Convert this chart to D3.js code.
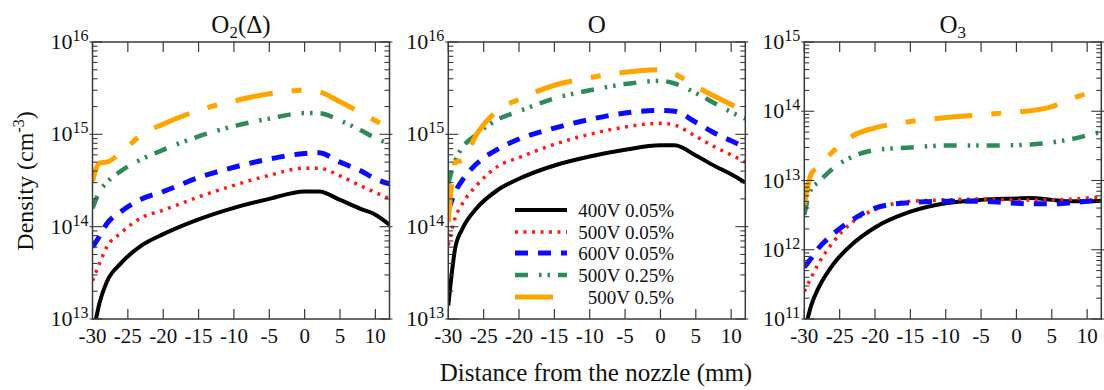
<!DOCTYPE html>
<html>
<head>
<meta charset="utf-8">
<script src="https://cdn.jsdelivr.net/npm/d3@7"></script>
<style>
  html, body { margin: 0; padding: 0; background: #fff; }
  svg { display: block; }
</style>
</head>
<body>
<svg id="chart" width="1104" height="390"></svg>
<script>
// ---------------- DATA ----------------
const distance = [-30, -29, -28, -26, -23, -20, -15, -10, -5, 0, 2, 5, 8, 10, 12];

const seriesNames = ["400V 0.05%", "500V 0.05%", "600V 0.05%", "500V 0.25%", "500V 0.5%"];

// O2(Δ) densities (cm^-3)
const o2d_400_005 = [6.3e12, 1.5e13, 2.5e13, 4.0e13, 6.3e13, 8.3e13, 1.2e14, 1.6e14, 2.0e14, 2.4e14, 2.4e14, 1.95e14, 1.55e14, 1.35e14, 1.05e14];
const o2d_500_005 = [2.6e13, 4.0e13, 6.0e13, 8.5e13, 1.26e14, 1.51e14, 2.1e14, 2.8e14, 3.6e14, 4.3e14, 4.3e14, 3.55e14, 2.75e14, 2.35e14, 2.0e14];
const o2d_600_005 = [6.0e13, 7.9e13, 1.07e14, 1.45e14, 2.0e14, 2.4e14, 3.4e14, 4.4e14, 5.4e14, 6.2e14, 6.3e14, 5.0e14, 4.0e14, 3.3e14, 2.9e14];
const o2d_500_025 = [1.58e14, 2.4e14, 3.0e14, 4.0e14, 5.4e14, 6.8e14, 9.5e14, 1.23e15, 1.48e15, 1.7e15, 1.7e15, 1.41e15, 1.1e15, 9.1e14, 7.9e14];
const o2d_500_05  = [3.1e14, 4.9e14, 5.0e14, 6.3e14, 1.0e15, 1.29e15, 1.82e15, 2.3e15, 2.75e15, 3.0e15, 2.9e15, 2.25e15, 1.7e15, 1.41e15, 1.15e15];

// O densities (cm^-3)
const o_400_005 = [1.4e13, 6.0e13, 9.5e13, 1.58e14, 2.5e14, 3.3e14, 4.6e14, 5.75e14, 6.8e14, 7.6e14, 7.6e14, 5.9e14, 4.4e14, 3.7e14, 3.0e14];
const o_500_005 = [6.3e13, 1.26e14, 1.78e14, 2.8e14, 4.5e14, 5.6e14, 7.8e14, 1.0e15, 1.2e15, 1.32e15, 1.26e15, 9.5e14, 7.1e14, 6.0e14, 5.0e14];
const o_600_005 = [1.51e14, 2.4e14, 3.2e14, 4.8e14, 6.9e14, 8.9e14, 1.17e15, 1.45e15, 1.7e15, 1.82e15, 1.78e15, 1.35e15, 1.0e15, 8.5e14, 7.2e14];
const o_500_025 = [2.95e14, 5.25e14, 7.2e14, 1.0e15, 1.45e15, 1.78e15, 2.45e15, 3.0e15, 3.5e15, 3.8e15, 3.55e15, 2.8e15, 2.1e15, 1.74e15, 1.48e15];
const o_500_05  = [1.12e14, 5.0e14, 5.25e14, 1.0e15, 1.82e15, 2.4e15, 3.4e15, 4.1e15, 4.7e15, 5.0e15, 4.5e15, 3.3e15, 2.5e15, 2.1e15, 1.74e15];

// O3 densities (cm^-3)
const o3_400_005 = [6.3e10, 1.6e11, 2.8e11, 6.0e11, 1.26e12, 2.1e12, 3.55e12, 4.7e12, 5.25e12, 5.5e12, 5.6e12, 5.25e12, 5.0e12, 5.0e12, 5.1e12];
const o3_500_005 = [2.5e11, 4.0e11, 6.3e11, 1.26e12, 2.6e12, 3.8e12, 5.0e12, 5.25e12, 5.4e12, 5.25e12, 5.25e12, 5.25e12, 5.4e12, 5.6e12, 5.75e12];
const o3_600_005 = [5.6e11, 7.6e11, 1.05e12, 1.66e12, 2.8e12, 4.0e12, 4.8e12, 5.0e12, 5.0e12, 4.7e12, 4.6e12, 4.6e12, 4.8e12, 5.0e12, 5.25e12];
const o3_500_025 = [3.2e12, 7.6e12, 9.5e12, 1.48e13, 2.25e13, 2.75e13, 3.0e13, 3.2e13, 3.2e13, 3.25e13, 3.3e13, 3.55e13, 4.0e13, 4.5e13, 5.0e13];
const o3_500_05  = [4.5e12, 1.26e13, 1.58e13, 2.6e13, 4.5e13, 5.75e13, 7.1e13, 8.1e13, 8.9e13, 9.8e13, 1.02e14, 1.17e14, 1.55e14, 1.82e14, 2.25e14];

const xTicks = [-30, -25, -20, -15, -10, -5, 0, 5, 10];

const panels = [
  { title: "O2(Δ)", domain: [1e13, 1e16], series: [o2d_400_005, o2d_500_005, o2d_600_005, o2d_500_025, o2d_500_05] },
  { title: "O",     domain: [1e13, 1e16], series: [o_400_005, o_500_005, o_600_005, o_500_025, o_500_05] },
  { title: "O3",    domain: [1e11, 1e15], series: [o3_400_005, o3_500_005, o3_600_005, o3_500_025, o3_500_05] }
];

// ---------------- STYLE ----------------
const styles = [
  { color: "#000000", width: 4,   dash: null },
  { color: "#ff1a1a", width: 3.5, dash: "3,5.5" },
  { color: "#0a0aff", width: 5,   dash: "13,10" },
  { color: "#2e8b57", width: 4.5, dash: "13,11,2.5,6,2.5,8" },
  { color: "#ffa500", width: 5,   dash: "38,19,10,19" }
];

// pick an installed serif face (Times-like)
function pickSerif() {
  const c = document.createElement("canvas").getContext("2d");
  const sample = "Distance from the nozzle 0123456789 mmWi";
  const base = {};
  ["monospace", "sans-serif"].forEach(b => { c.font = "40px " + b; base[b] = c.measureText(sample).width; });
  const cands = ["Liberation Serif", "Times New Roman", "Tinos", "Nimbus Roman", "Nimbus Roman No9 L",
                 "FreeSerif", "DejaVu Serif", "Noto Serif", "Times", "serif"];
  for (const f of cands) {
    let ok = true;
    for (const b of ["monospace", "sans-serif"]) {
      c.font = `40px '${f}', ${b}`;
      if (Math.abs(c.measureText(sample).width - base[b]) < 0.5) ok = false;
    }
    if (ok) return `'${f}'`;
  }
  return "serif";
}
const FONT = pickSerif() + ", 'Liberation Serif', 'Times New Roman', serif";

const svg = d3.select("#chart").attr("font-family", FONT);
const lefts = [92.5, 448.3, 804.3];
const plotW = 297, plotTop = 42, plotBottom = 319;
const frameColor = "#3a3a3a";

panels.forEach((p, pi) => {
  const x0 = lefts[pi], x1 = x0 + plotW;
  const x = d3.scaleLinear().domain([-30, 12]).range([x0, x1]);
  const y = d3.scaleLog().domain(p.domain).range([plotBottom, plotTop]);
  const g = svg.append("g");

  const clipId = "clip" + pi;
  svg.append("clipPath").attr("id", clipId)
    .append("rect").attr("x", x0).attr("y", plotTop).attr("width", plotW).attr("height", plotBottom - plotTop);

  const line = d3.line().x((d, i) => x(distance[i])).y(d => y(d)).curve(d3.curveMonotoneX);
  const lg = g.append("g").attr("clip-path", `url(#${clipId})`);
  p.series.forEach((vals, si) => {
    const s = styles[si];
    lg.append("path").datum(vals)
      .attr("d", line)
      .attr("fill", "none")
      .attr("stroke", s.color)
      .attr("stroke-width", s.width)
      .attr("stroke-dasharray", s.dash);
  });

  g.append("rect").attr("x", x0).attr("y", plotTop).attr("width", plotW).attr("height", plotBottom - plotTop)
    .attr("fill", "none").attr("stroke", frameColor).attr("stroke-width", 1.5);

  xTicks.forEach(t => {
    const xx = x(t);
    g.append("line").attr("x1", xx).attr("x2", xx).attr("y1", plotBottom).attr("y2", plotBottom - 10)
      .attr("stroke", frameColor).attr("stroke-width", 1.2);
    g.append("line").attr("x1", xx).attr("x2", xx).attr("y1", plotTop).attr("y2", plotTop + 10)
      .attr("stroke", frameColor).attr("stroke-width", 1.2);
    g.append("text").attr("x", xx).attr("y", plotBottom + 24)
      .attr("text-anchor", "middle").attr("font-size", 21).attr("fill", "#111")
      .text(t);
  });

  const allTicks = y.ticks();
  const [dmin, dmax] = p.domain;
  allTicks.forEach(t => {
    if (t < dmin * 0.999 || t > dmax * 1.001) return;
    const lg10 = Math.log10(t);
    const major = Math.abs(lg10 - Math.round(lg10)) < 1e-6;
    const len = major ? 10 : 5;
    const yy = y(t);
    g.append("line").attr("x1", x0 - (major ? 3 : 0)).attr("x2", x0 + len).attr("y1", yy).attr("y2", yy)
      .attr("stroke", frameColor).attr("stroke-width", 1.1);
    g.append("line").attr("x1", x1 + (major ? 3 : 0)).attr("x2", x1 - len).attr("y1", yy).attr("y2", yy)
      .attr("stroke", frameColor).attr("stroke-width", 1.1);
    if (major) {
      const txt = g.append("text").attr("x", x0 - 4).attr("y", yy + 7)
        .attr("text-anchor", "end").attr("fill", "#111");
      txt.append("tspan").attr("font-size", 22).text("10");
      txt.append("tspan").attr("font-size", 16).attr("dy", -8).text(Math.round(lg10));
    }
  });

  const cx = x0 + plotW / 2;
  const tt = svg.append("text").attr("x", cx).attr("y", 33).attr("text-anchor", "middle")
    .attr("font-size", 25).attr("fill", "#111");
  if (pi === 0) {
    tt.append("tspan").text("O");
    tt.append("tspan").attr("font-size", 17).attr("dy", 5).text("2");
    tt.append("tspan").attr("dy", -5).text("(Δ)");
  } else if (pi === 1) {
    tt.append("tspan").text("O");
  } else {
    tt.append("tspan").text("O");
    tt.append("tspan").attr("font-size", 17).attr("dy", 5).text("3");
  }
});

const yl = svg.append("text")
  .attr("transform", "translate(33,181) rotate(-90)")
  .attr("text-anchor", "middle").attr("font-size", 24).attr("fill", "#111");
yl.append("tspan").text("Density (cm");
yl.append("tspan").attr("font-size", 16).attr("dy", -9).text("-3");
yl.append("tspan").attr("dy", 9).text(")");

svg.append("text").attr("x", 596).attr("y", 381).attr("text-anchor", "middle")
  .attr("font-size", 25).attr("fill", "#111")
  .text("Distance from the nozzle (mm)");

const legRows = [210, 232, 253, 275, 297];
seriesNames.forEach((name, i) => {
  const s = styles[i];
  const yy = legRows[i];
  svg.append("line").attr("x1", 515).attr("x2", 567).attr("y1", yy).attr("y2", yy)
    .attr("stroke", s.color).attr("stroke-width", s.width).attr("stroke-dasharray", s.dash);
  svg.append("text").attr("x", 674).attr("y", yy + 7).attr("text-anchor", "end")
    .attr("font-size", 19).attr("fill", "#111").text(name);
});
</script>
</body>
</html>
